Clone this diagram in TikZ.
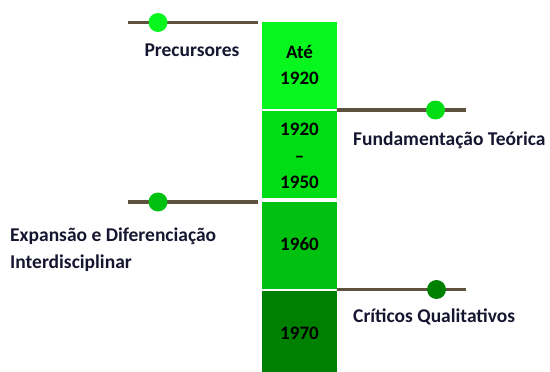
\documentclass[tikz,border=0pt]{standalone}
\usepackage{fontspec}
\setmainfont{Carlito}
\definecolor{gA}{RGB}{6,246,30}
\definecolor{gB}{RGB}{0,221,20}
\definecolor{gC}{RGB}{0,193,16}
\definecolor{gD}{RGB}{0,128,0}
\definecolor{lineC}{RGB}{92,82,62}
\definecolor{txtC}{RGB}{22,22,48}
\begin{document}
\begin{tikzpicture}[x=1pt,y=-1pt,
  yearbox/.style={draw=none,minimum width=75pt,inner sep=0pt,font=\fontsize{19}{26.5}\selectfont\bfseries,align=center,text=black},
  tline/.style={draw=lineC,line width=3.6pt},
  tdot/.style={circle,inner sep=0pt,minimum size=19pt},
  lbl/.style={font=\fontsize{19.5}{26.5}\selectfont\bfseries,text=txtC,align=left,inner sep=0pt}]
\useasboundingbox (0,0) rectangle (550,372);
% boxes
\fill[gA] (262,22) rectangle (337,108.5);
\fill[gB] (262,111) rectangle (337,197.5);
\fill[gC] (262,201.5) rectangle (337,288.5);
\fill[gD] (262,291) rectangle (337,372);
\node[yearbox] (b1) at (299.5,65) {Até\\1920};
\node[yearbox] (b2) at (299.5,156) {1920\\–\\1950};
\node[yearbox] (b3) at (299.5,244) {1960};
\node[yearbox] (b4) at (299.5,333) {1970};
% lines
\coordinate (l1a) at (128,22.5); \coordinate (l1b) at (258,22.5);
\coordinate (l2a) at (337,110); \coordinate (l2b) at (466,110);
\coordinate (l3a) at (128,202); \coordinate (l3b) at (258,202);
\coordinate (l4a) at (337,289.5); \coordinate (l4b) at (466,289.5);
\draw[tline] (l1a) -- (l1b);
\draw[tline] (l2a) -- (l2b);
\draw[tline] (l3a) -- (l3b);
\draw[tline] (l4a) -- (l4b);
\node[tdot,fill=gA] (d1) at (158,22.5) {};
\node[tdot,fill=gB] (d2) at (435.5,110) {};
\node[tdot,fill=gC] (d3) at (158,202) {};
\node[tdot,fill=gD] (d4) at (436.5,289.5) {};
% labels
\node[lbl,anchor=center] (t1) at (192,50) {Precursores};
\node[lbl,anchor=west] (t2) at (353,140.5) {Fundamentação Teórica};
\node[lbl,anchor=west] (t3) at (10,249.5) {Expansão e Diferenciação\\Interdisciplinar};
\node[lbl,anchor=west] (t4) at (353,316.5) {Críticos Qualitativos};
\end{tikzpicture}
\end{document}
